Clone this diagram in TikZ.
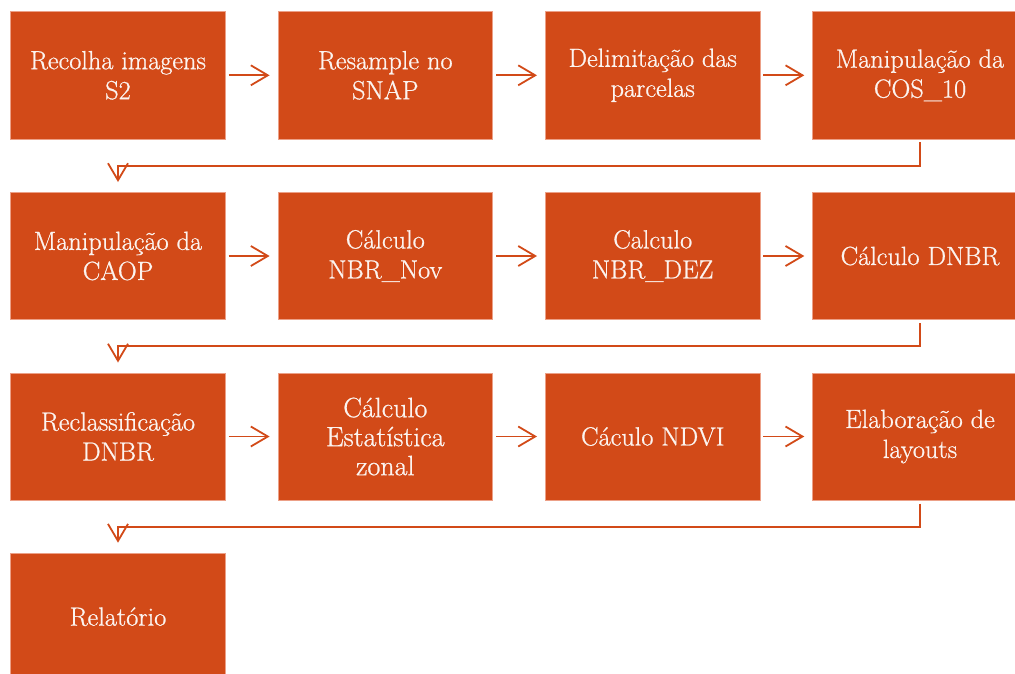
\documentclass[tikz,border=0pt]{standalone}
\usepackage{fontspec}
\newfontfamily\lmheavy{Latin Modern Roman}[FakeBold=0.8]
\usetikzlibrary{arrows.meta,calc}
\definecolor{boxor}{RGB}{210,74,24}
\definecolor{boxedge}{RGB}{236,160,135}
\definecolor{txtw}{RGB}{252,244,240}
\begin{document}
\begin{tikzpicture}[x=1pt,y=-1pt,
  stepbox/.style={rectangle, fill=boxor, draw=boxedge, line width=0.7pt,
    minimum width=214.7pt, minimum height=127.3pt, inner sep=0pt,
    align=center, text=txtw, font=\lmheavy\fontsize{26.3}{30}\selectfont},
  arr/.style={draw=boxor, line width=1.8pt,
    -{Straight Barb[length=17pt,width=20pt,line width=1.8pt]}},
  harr/.style={arr, shorten <=3pt, shorten >=8pt},
  varr/.style={arr, shorten <=3pt, shorten >=10pt}]
\useasboundingbox (0,0) rectangle (1015,673);
\clip (0,0) rectangle (1015,673);
\node[stepbox] (b1) at (118,75.3) {Recolha imagens\\S2};
\node[stepbox] (b2) at (385.3,75.3) {Resample no\\SNAP};
\node[stepbox] (b3) at (652.7,75.3) {Delimitação das\\parcelas};
\node[stepbox] (b4) at (920,75.3) {Manipulação da\\COS\_10};
\node[stepbox] (b5) at (118,256) {Manipulação da\\CAOP};
\node[stepbox] (b6) at (385.3,256) {Cálculo\\NBR\_Nov};
\node[stepbox] (b7) at (652.7,256) {Calculo\\NBR\_DEZ};
\node[stepbox] (b8) at (920,256) {Cálculo DNBR};
\node[stepbox] (b9) at (118,436.5) {Reclassificação\\DNBR};
\node[stepbox, font=\lmheavy\fontsize{28}{29}\selectfont] (b10) at (385.3,436.5) {Cálculo\\Estatística\\zonal};
\node[stepbox] (b11) at (652.7,436.5) {Cáculo NDVI};
\node[stepbox] (b12) at (920,436.5) {Elaboração de\\layouts};
\node[stepbox] (b13) at (118,616.7) {Relatório};
\draw[harr] (b1.east) -- (b2.west);
\draw[harr] (b2.east) -- (b3.west);
\draw[harr] (b3.east) -- (b4.west);
\draw[harr] (b5.east) -- (b6.west);
\draw[harr] (b6.east) -- (b7.west);
\draw[harr] (b7.east) -- (b8.west);
\draw[harr] (b9.east) -- (b10.west);
\draw[harr] (b10.east) -- (b11.west);
\draw[harr] (b11.east) -- (b12.west);
\coordinate (m1) at ($(b4.south)!0.5!(b5.north)$);
\coordinate (m2) at ($(b8.south)!0.5!(b9.north)$);
\coordinate (m3) at ($(b12.south)!0.5!(b13.north)$);
\draw[varr] (b4.south) |- (m1) -| (b5.north);
\draw[varr] (b8.south) |- (m2) -| (b9.north);
\draw[varr] (b12.south) |- (m3) -| (b13.north);
\end{tikzpicture}
\end{document}
